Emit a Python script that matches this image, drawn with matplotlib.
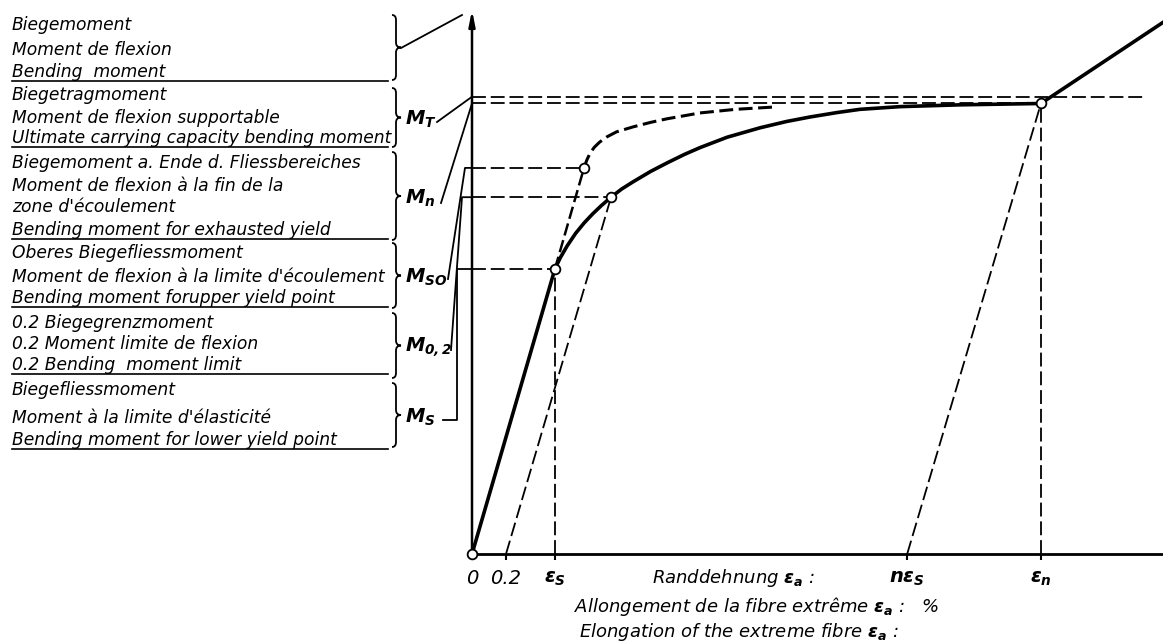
import numpy as np
import matplotlib.pyplot as plt
from matplotlib.path import Path
from matplotlib.patches import PathPatch

plt.rcParams['lines.scale_dashes'] = False
plt.rcParams['mathtext.fontset'] = 'custom'
plt.rcParams['mathtext.it'] = 'DejaVu Sans:italic:bold'
plt.rcParams['mathtext.rm'] = 'DejaVu Sans:italic:bold'
plt.rcParams['font.family'] = ['DejaVu Sans']

W, H = 1163, 641

# strain (%) and bending moment (relative to M_n)
eps_02 = 0.2
eps_s = 0.488
eps_so = 0.659
eps_02pt = 0.818
n_eps_s = 2.56
eps_n = 3.347
M_s = 0.633
M_02 = 0.792
M_so = 0.857
M_n = 1.0
M_T = 1.015

# solid curve (actual bending moment curve)
curve_eps = [0, 0.488, 0.52, 0.56, 0.61, 0.66, 0.71, 0.76, 0.818, 0.88, 0.947, 1.05, 1.147, 1.25,
             1.341, 1.5, 1.694, 1.85, 1.988, 2.15, 2.282, 2.518, 2.87, 3.347]
curve_M = [0, 0.633, 0.658, 0.684, 0.712, 0.735, 0.755, 0.773, 0.792, 0.810, 0.826, 0.849, 0.868, 0.887,
           0.902, 0.925, 0.946, 0.960, 0.970, 0.980, 0.987, 0.993, 0.997, 1.0]
# after exhausted yield
tail_eps = [3.347, 4.065]
tail_M = [1.0, 1.18]
# dashed curve (with upper yield point)
upper_eps = [0.659, 0.675, 0.695, 0.72, 0.75, 0.794, 0.85, 0.947, 1.05, 1.147, 1.341, 1.55, 1.771]
upper_M = [0.857, 0.874, 0.890, 0.903, 0.914, 0.926, 0.937, 0.948, 0.958, 0.966, 0.979, 0.987, 0.992]
M_T_end = 3.947

tick_pos = [0, eps_02, eps_s, n_eps_s, eps_n]
tick_lbl = ['0', '0.2', r'$\varepsilon_S$', r'$n\varepsilon_S$', r'$\varepsilon_n$']

groups = [
    ["Biegemoment", "Moment de flexion", "Bending  moment"],
    ["Biegetragmoment", "Moment de flexion supportable", "Ultimate carrying capacity bending moment"],
    ["Biegemoment a. Ende d. Fliessbereiches", "Moment de flexion à la fin de la",
     "zone d'écoulement", "Bending moment for exhausted yield"],
    ["Oberes Biegefliessmoment", "Moment de flexion à la limite d'écoulement", "Bending moment forupper yield point"],
    ["0.2 Biegegrenzmoment", "0.2 Moment limite de flexion", "0.2 Bending  moment limit"],
    ["Biegefliessmoment", "Moment à la limite d'élasticité", "Bending moment for lower yield point"],
]
group_rows = [[25, 50, 72], [95, 118, 138], [163, 186, 207, 230], [253, 277, 298], [323, 344, 365], [390, 418, 440]]
brace_span = [(15, 80), (88, 147), (152, 240), (243, 308), (313, 378), (383, 447)]
m_labels = [None, r'$M_T$', r'$M_n$', r'$M_{SO}$', r'$M_{0,2}$', r'$M_S$']

fig = plt.figure(figsize=(W / 100, H / 100), dpi=100)
ax = fig.add_axes([472 / W, (H - 554) / H, (W - 472) / W, (554 - 10) / H])
ax.set_xlim(0, 4.065)
ax.set_ylim(0, 1.2075)
for s in ['top', 'right', 'left']:
    ax.spines[s].set_visible(False)
ax.spines['bottom'].set_linewidth(2)
ax.set_yticks([])
ax.set_xticks(tick_pos, tick_lbl, fontsize=14, fontstyle='italic')
ax.tick_params(axis='x', direction='out', length=4, width=1.5, pad=7)
ax.annotate('', xy=(0, 1.2075), xytext=(0, 0), annotation_clip=False,
            arrowprops=dict(arrowstyle='-|>,head_length=0.9,head_width=0.18', lw=1.8, color='k', shrinkA=0, shrinkB=0))

thin = dict(color='k', lw=1.3, dashes=(10, 3.5), clip_on=False)
ax.plot([0, M_T_end], [M_T, M_T], **thin)
ax.plot([0, eps_n], [M_n, M_n], **thin)
ax.plot([0, eps_so], [M_so, M_so], **thin)
ax.plot([0, eps_02pt], [M_02, M_02], **thin)
ax.plot([0, eps_s], [M_s, M_s], **thin)
ax.plot([eps_s, eps_s], [0, M_s], **thin)
ax.plot([eps_n, eps_n], [0, M_n], **thin)
ax.plot([eps_02, eps_02pt], [0, M_02], **thin)
ax.plot([n_eps_s, eps_n], [0, M_n], **thin)
ax.plot([eps_s, eps_so], [M_s, M_so], color='k', lw=1.8, dashes=(9, 3.5))
ax.plot(upper_eps, upper_M, color='k', lw=2.2, dashes=(10, 4))
ax.plot(curve_eps, curve_M, color='k', lw=2.6, solid_joinstyle='round')
ax.plot(tail_eps, tail_M, color='k', lw=2.6, clip_on=False)
ax.plot([0, eps_s, eps_so, eps_02pt, eps_n], [0, M_s, M_so, M_02, M_n], 'o', ms=7,
        mfc='white', mec='k', mew=1.3, clip_on=False, zorder=5)


def px(x, y):
    X, Y = ax.transData.transform((x, y))
    return X, H - Y


ov = fig.add_axes([0, 0, 1, 1])
ov.set_xlim(0, W)
ov.set_ylim(H, 0)
ov.axis('off')


def brace(x, y0, y1):
    ym = (y0 + y1) / 2
    verts = [(x - 4, y0), (x, y0), (x, y0 + 5), (x, ym - 5), (x, ym), (x + 5, ym),
             (x, ym), (x, ym + 5), (x, y1 - 5), (x, y1), (x - 4, y1)]
    codes = [Path.MOVETO, Path.CURVE3, Path.CURVE3, Path.LINETO, Path.CURVE3, Path.CURVE3,
             Path.CURVE3, Path.CURVE3, Path.LINETO, Path.CURVE3, Path.CURVE3]
    ov.add_patch(PathPatch(Path(verts, codes), fc='none', ec='k', lw=1.3))


for lines, rows, (y0, y1), lab in zip(groups, group_rows, brace_span, m_labels):
    for t, y in zip(lines, rows):
        ov.text(12, y, t, fontsize=12.3, fontstyle='italic', va='center', ha='left')
    ov.plot([12, 388], [rows[-1] + 9, rows[-1] + 9], color='k', lw=1.2)
    brace(396, y0, y1)
    if lab:
        ov.text(405, (y0 + y1) / 2 + 2, lab, fontsize=14, va='center', ha='left')

# leader lines from labels to the moment axis
ax_x, yT = px(0, M_T)
_, yn = px(0, M_n)
_, yso = px(0, M_so)
_, y02 = px(0, M_02)
_, ys = px(0, M_s)
lead = dict(color='k', lw=1.3)
ov.plot([401, 462], [48, 15], **lead)
ov.plot([437, ax_x], [122, yT], **lead)
ov.plot([441, ax_x], [203, yn], **lead)
ov.plot([448, 465, ax_x], [279, yso, yso], **lead)
ov.plot([451, 462, ax_x], [350, y02, y02], **lead)
ov.plot([443, 457, 457, ax_x], [420, 420, ys, ys], **lead)

# axis title lines
ov.text(652, 578, r'Randdehnung $\varepsilon_a$ :', fontsize=13, fontstyle='italic', va='center')
ov.text(574, 607, r'Allongement de la fibre extrême $\varepsilon_a$ :   %', fontsize=13, fontstyle='italic', va='center')
ov.text(579, 632, r'Elongation of the extreme fibre $\varepsilon_a$ :', fontsize=13, fontstyle='italic', va='center')

fig.savefig('out.png', dpi=100)
